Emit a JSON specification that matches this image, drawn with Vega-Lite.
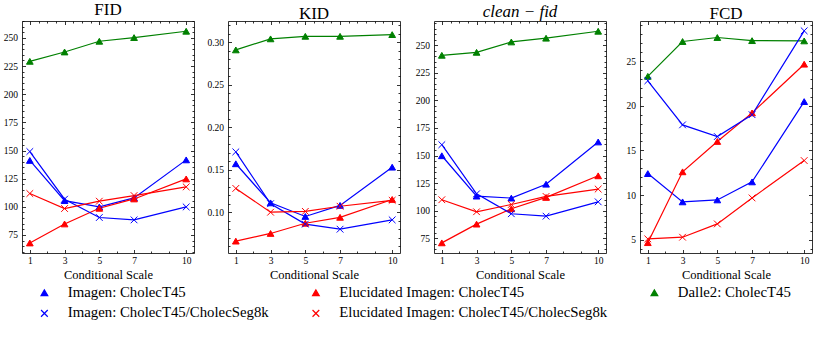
{
  "$schema": "https://vega.github.io/schema/vega-lite/v6.json",
  "padding": {"left": 3, "top": 0, "right": 2, "bottom": 2},
  "datasets": {
    "d": [
      {"metric": "FID", "model": "Imagen: CholecT45", "scale": 1, "value": 141.2},
      {"metric": "FID", "model": "Imagen: CholecT45", "scale": 3, "value": 105.5},
      {"metric": "FID", "model": "Imagen: CholecT45", "scale": 5, "value": 99.9},
      {"metric": "FID", "model": "Imagen: CholecT45", "scale": 7, "value": 107.9},
      {"metric": "FID", "model": "Imagen: CholecT45", "scale": 10, "value": 141.7},
      {"metric": "FID", "model": "Elucidated Imagen: CholecT45", "scale": 1, "value": 67.9},
      {"metric": "FID", "model": "Elucidated Imagen: CholecT45", "scale": 3, "value": 84.8},
      {"metric": "FID", "model": "Elucidated Imagen: CholecT45", "scale": 5, "value": 98.7},
      {"metric": "FID", "model": "Elucidated Imagen: CholecT45", "scale": 7, "value": 107.0},
      {"metric": "FID", "model": "Elucidated Imagen: CholecT45", "scale": 10, "value": 124.8},
      {"metric": "FID", "model": "Dalle2: CholecT45", "scale": 1, "value": 229.2},
      {"metric": "FID", "model": "Dalle2: CholecT45", "scale": 3, "value": 237.5},
      {"metric": "FID", "model": "Dalle2: CholecT45", "scale": 5, "value": 247.0},
      {"metric": "FID", "model": "Dalle2: CholecT45", "scale": 7, "value": 250.3},
      {"metric": "FID", "model": "Dalle2: CholecT45", "scale": 10, "value": 255.9},
      {"metric": "FID", "model": "Imagen: CholecT45/CholecSeg8k", "scale": 1, "value": 149.1},
      {"metric": "FID", "model": "Imagen: CholecT45/CholecSeg8k", "scale": 3, "value": 106.8},
      {"metric": "FID", "model": "Imagen: CholecT45/CholecSeg8k", "scale": 5, "value": 90.5},
      {"metric": "FID", "model": "Imagen: CholecT45/CholecSeg8k", "scale": 7, "value": 88.4},
      {"metric": "FID", "model": "Imagen: CholecT45/CholecSeg8k", "scale": 10, "value": 99.9},
      {"metric": "FID", "model": "Elucidated Imagen: CholecT45/CholecSeg8k", "scale": 1, "value": 111.8},
      {"metric": "FID", "model": "Elucidated Imagen: CholecT45/CholecSeg8k", "scale": 3, "value": 98.5},
      {"metric": "FID", "model": "Elucidated Imagen: CholecT45/CholecSeg8k", "scale": 5, "value": 105.0},
      {"metric": "FID", "model": "Elucidated Imagen: CholecT45/CholecSeg8k", "scale": 7, "value": 110.0},
      {"metric": "FID", "model": "Elucidated Imagen: CholecT45/CholecSeg8k", "scale": 10, "value": 117.7},

      {"metric": "KID", "model": "Imagen: CholecT45", "scale": 1, "value": 0.157},
      {"metric": "KID", "model": "Imagen: CholecT45", "scale": 3, "value": 0.111},
      {"metric": "KID", "model": "Imagen: CholecT45", "scale": 5, "value": 0.095},
      {"metric": "KID", "model": "Imagen: CholecT45", "scale": 7, "value": 0.108},
      {"metric": "KID", "model": "Imagen: CholecT45", "scale": 10, "value": 0.153},
      {"metric": "KID", "model": "Elucidated Imagen: CholecT45", "scale": 1, "value": 0.066},
      {"metric": "KID", "model": "Elucidated Imagen: CholecT45", "scale": 3, "value": 0.075},
      {"metric": "KID", "model": "Elucidated Imagen: CholecT45", "scale": 5, "value": 0.087},
      {"metric": "KID", "model": "Elucidated Imagen: CholecT45", "scale": 7, "value": 0.094},
      {"metric": "KID", "model": "Elucidated Imagen: CholecT45", "scale": 10, "value": 0.115},
      {"metric": "KID", "model": "Dalle2: CholecT45", "scale": 1, "value": 0.291},
      {"metric": "KID", "model": "Dalle2: CholecT45", "scale": 3, "value": 0.304},
      {"metric": "KID", "model": "Dalle2: CholecT45", "scale": 5, "value": 0.307},
      {"metric": "KID", "model": "Dalle2: CholecT45", "scale": 7, "value": 0.307},
      {"metric": "KID", "model": "Dalle2: CholecT45", "scale": 10, "value": 0.309},
      {"metric": "KID", "model": "Imagen: CholecT45/CholecSeg8k", "scale": 1, "value": 0.171},
      {"metric": "KID", "model": "Imagen: CholecT45/CholecSeg8k", "scale": 3, "value": 0.110},
      {"metric": "KID", "model": "Imagen: CholecT45/CholecSeg8k", "scale": 5, "value": 0.086},
      {"metric": "KID", "model": "Imagen: CholecT45/CholecSeg8k", "scale": 7, "value": 0.080},
      {"metric": "KID", "model": "Imagen: CholecT45/CholecSeg8k", "scale": 10, "value": 0.091},
      {"metric": "KID", "model": "Elucidated Imagen: CholecT45/CholecSeg8k", "scale": 1, "value": 0.128},
      {"metric": "KID", "model": "Elucidated Imagen: CholecT45/CholecSeg8k", "scale": 3, "value": 0.100},
      {"metric": "KID", "model": "Elucidated Imagen: CholecT45/CholecSeg8k", "scale": 5, "value": 0.101},
      {"metric": "KID", "model": "Elucidated Imagen: CholecT45/CholecSeg8k", "scale": 7, "value": 0.107},
      {"metric": "KID", "model": "Elucidated Imagen: CholecT45/CholecSeg8k", "scale": 10, "value": 0.114},

      {"metric": "CF", "model": "Imagen: CholecT45", "scale": 1, "value": 149.8},
      {"metric": "CF", "model": "Imagen: CholecT45", "scale": 3, "value": 113.2},
      {"metric": "CF", "model": "Imagen: CholecT45", "scale": 5, "value": 111.4},
      {"metric": "CF", "model": "Imagen: CholecT45", "scale": 7, "value": 124.0},
      {"metric": "CF", "model": "Imagen: CholecT45", "scale": 10, "value": 162.3},
      {"metric": "CF", "model": "Elucidated Imagen: CholecT45", "scale": 1, "value": 70.8},
      {"metric": "CF", "model": "Elucidated Imagen: CholecT45", "scale": 3, "value": 87.8},
      {"metric": "CF", "model": "Elucidated Imagen: CholecT45", "scale": 5, "value": 101.7},
      {"metric": "CF", "model": "Elucidated Imagen: CholecT45", "scale": 7, "value": 112.0},
      {"metric": "CF", "model": "Elucidated Imagen: CholecT45", "scale": 10, "value": 131.6},
      {"metric": "CF", "model": "Dalle2: CholecT45", "scale": 1, "value": 240.9},
      {"metric": "CF", "model": "Dalle2: CholecT45", "scale": 3, "value": 243.6},
      {"metric": "CF", "model": "Dalle2: CholecT45", "scale": 5, "value": 253.0},
      {"metric": "CF", "model": "Dalle2: CholecT45", "scale": 7, "value": 256.4},
      {"metric": "CF", "model": "Dalle2: CholecT45", "scale": 10, "value": 262.7},
      {"metric": "CF", "model": "Imagen: CholecT45/CholecSeg8k", "scale": 1, "value": 159.8},
      {"metric": "CF", "model": "Imagen: CholecT45/CholecSeg8k", "scale": 3, "value": 115.3},
      {"metric": "CF", "model": "Imagen: CholecT45/CholecSeg8k", "scale": 5, "value": 97.2},
      {"metric": "CF", "model": "Imagen: CholecT45/CholecSeg8k", "scale": 7, "value": 95.0},
      {"metric": "CF", "model": "Imagen: CholecT45/CholecSeg8k", "scale": 10, "value": 108.0},
      {"metric": "CF", "model": "Elucidated Imagen: CholecT45/CholecSeg8k", "scale": 1, "value": 109.9},
      {"metric": "CF", "model": "Elucidated Imagen: CholecT45/CholecSeg8k", "scale": 3, "value": 99.0},
      {"metric": "CF", "model": "Elucidated Imagen: CholecT45/CholecSeg8k", "scale": 5, "value": 105.6},
      {"metric": "CF", "model": "Elucidated Imagen: CholecT45/CholecSeg8k", "scale": 7, "value": 112.9},
      {"metric": "CF", "model": "Elucidated Imagen: CholecT45/CholecSeg8k", "scale": 10, "value": 119.6},

      {"metric": "FCD", "model": "Imagen: CholecT45", "scale": 1, "value": 12.4},
      {"metric": "FCD", "model": "Imagen: CholecT45", "scale": 3, "value": 9.23},
      {"metric": "FCD", "model": "Imagen: CholecT45", "scale": 5, "value": 9.45},
      {"metric": "FCD", "model": "Imagen: CholecT45", "scale": 7, "value": 11.47},
      {"metric": "FCD", "model": "Imagen: CholecT45", "scale": 10, "value": 20.47},
      {"metric": "FCD", "model": "Elucidated Imagen: CholecT45", "scale": 1, "value": 4.66},
      {"metric": "FCD", "model": "Elucidated Imagen: CholecT45", "scale": 3, "value": 12.6},
      {"metric": "FCD", "model": "Elucidated Imagen: CholecT45", "scale": 5, "value": 16.0},
      {"metric": "FCD", "model": "Elucidated Imagen: CholecT45", "scale": 7, "value": 19.2},
      {"metric": "FCD", "model": "Elucidated Imagen: CholecT45", "scale": 10, "value": 24.66},
      {"metric": "FCD", "model": "Dalle2: CholecT45", "scale": 1, "value": 23.3},
      {"metric": "FCD", "model": "Dalle2: CholecT45", "scale": 3, "value": 27.2},
      {"metric": "FCD", "model": "Dalle2: CholecT45", "scale": 5, "value": 27.65},
      {"metric": "FCD", "model": "Dalle2: CholecT45", "scale": 7, "value": 27.3},
      {"metric": "FCD", "model": "Dalle2: CholecT45", "scale": 10, "value": 27.27},
      {"metric": "FCD", "model": "Imagen: CholecT45/CholecSeg8k", "scale": 1, "value": 22.8},
      {"metric": "FCD", "model": "Imagen: CholecT45/CholecSeg8k", "scale": 3, "value": 17.86},
      {"metric": "FCD", "model": "Imagen: CholecT45/CholecSeg8k", "scale": 5, "value": 16.55},
      {"metric": "FCD", "model": "Imagen: CholecT45/CholecSeg8k", "scale": 7, "value": 19.0},
      {"metric": "FCD", "model": "Imagen: CholecT45/CholecSeg8k", "scale": 10, "value": 28.4},
      {"metric": "FCD", "model": "Elucidated Imagen: CholecT45/CholecSeg8k", "scale": 1, "value": 5.08},
      {"metric": "FCD", "model": "Elucidated Imagen: CholecT45/CholecSeg8k", "scale": 3, "value": 5.27},
      {"metric": "FCD", "model": "Elucidated Imagen: CholecT45/CholecSeg8k", "scale": 5, "value": 6.76},
      {"metric": "FCD", "model": "Elucidated Imagen: CholecT45/CholecSeg8k", "scale": 7, "value": 9.67},
      {"metric": "FCD", "model": "Elucidated Imagen: CholecT45/CholecSeg8k", "scale": 10, "value": 13.86}
    ]
  },
  "data": {"name": "d"},
  "spacing": 34,
  "bounds": "flush",
  "hconcat": [
    {
      "width": 172, "height": 232,
      "title": {"text": "FID"},
      "transform": [{"filter": "datum.metric === 'FID'"}],
      "resolve": {"axis": {"x": "independent", "y": "independent"}},
      "layer": [
        {
          "mark": {"type": "line", "strokeWidth": 1.2},
          "encoding": {
            "x": {"field": "scale", "type": "quantitative", "scale": {"domain": [0.55, 10.45], "nice": false, "zero": false},
                  "axis": {"orient": "bottom", "title": "Conditional Scale", "values": [1,1.5,2,2.5,3,3.5,4,4.5,5,5.5,6,6.5,7,7.5,8,8.5,9,9.5,10], "format": "d", "labelExpr": "indexof([1,3,5,7,10], datum.value) >= 0 ? datum.label : ''", "tickSize": {"condition": {"test": "indexof([1,3,5,7,10], datum.value) >= 0", "value": -3.5}, "value": -2}}},
            "y": {"field": "value", "type": "quantitative", "scale": {"domain": [59, 265], "nice": false, "zero": false},
                  "axis": {"orient": "left", "title": null, "values": [60,65,70,75,80,85,90,95,100,105,110,115,120,125,130,135,140,145,150,155,160,165,170,175,180,185,190,195,200,205,210,215,220,225,230,235,240,245,250,255,260,265], "format": "d", "labelExpr": "datum.value % 25 === 0 ? datum.label : ''", "tickSize": {"condition": {"test": "datum.value % 25 === 0", "value": -3.5}, "value": -2}}},
            "color": {"field": "model", "type": "nominal",
                      "scale": {"domain": ["Imagen: CholecT45", "Elucidated Imagen: CholecT45", "Dalle2: CholecT45", "Imagen: CholecT45/CholecSeg8k", "Elucidated Imagen: CholecT45/CholecSeg8k"], "range": ["#0000ff", "#ff0000", "#008000", "#0000ff", "#ff0000"]},
                      "legend": {
                        "orient": "bottom", "columns": 3, "title": null, "labelFont": "Liberation Serif", "labelFontSize": 14.8, "labelColor": "#000", "labelLimit": 0,
                        "symbolSize": 45, "symbolOffset": 15, "labelOffset": 16, "columnPadding": 24.5, "rowPadding": 5, "offset": 4, "padding": 0,
                        "symbolStrokeWidth": 1.2
                      }}
          }
        },
        {
          "mark": {"type": "point", "filled": true, "size": 45, "strokeWidth": 1, "opacity": 1},
          "encoding": {
            "x": {"field": "scale", "type": "quantitative",
                  "axis": {"orient": "top", "title": null, "labels": false, "values": [1,1.5,2,2.5,3,3.5,4,4.5,5,5.5,6,6.5,7,7.5,8,8.5,9,9.5,10], "tickSize": {"condition": {"test": "indexof([1,3,5,7,10], datum.value) >= 0", "value": -3.5}, "value": -2}}},
            "y": {"field": "value", "type": "quantitative",
                  "axis": {"orient": "right", "title": null, "labels": false, "values": [60,65,70,75,80,85,90,95,100,105,110,115,120,125,130,135,140,145,150,155,160,165,170,175,180,185,190,195,200,205,210,215,220,225,230,235,240,245,250,255,260,265], "tickSize": {"condition": {"test": "datum.value % 25 === 0", "value": -3.5}, "value": -2}}},
            "color": {"field": "model", "type": "nominal"},
            "stroke": {"field": "model", "type": "nominal", "legend": null,
                       "scale": {"domain": ["Imagen: CholecT45", "Elucidated Imagen: CholecT45", "Dalle2: CholecT45", "Imagen: CholecT45/CholecSeg8k", "Elucidated Imagen: CholecT45/CholecSeg8k"], "range": ["#0000ff", "#ff0000", "#008000", "#0000ff", "#ff0000"]}},
            "shape": {"field": "model", "type": "nominal", "legend": null,
                      "scale": {"domain": ["Imagen: CholecT45", "Elucidated Imagen: CholecT45", "Dalle2: CholecT45", "Imagen: CholecT45/CholecSeg8k", "Elucidated Imagen: CholecT45/CholecSeg8k"], "range": ["triangle-up", "triangle-up", "triangle-up", "M-1,-1L1,1M-1,1L1,-1", "M-1,-1L1,1M-1,1L1,-1"]}}
          }
        }
      ]
    },
    {
      "width": 172, "height": 232,
      "title": {"text": "KID"},
      "transform": [{"filter": "datum.metric === 'KID'"}],
      "resolve": {"axis": {"x": "independent", "y": "independent"}},
      "layer": [
        {
          "mark": {"type": "line", "strokeWidth": 1.2},
          "encoding": {
            "x": {"field": "scale", "type": "quantitative", "scale": {"domain": [0.55, 10.45], "nice": false, "zero": false},
                  "axis": {"orient": "bottom", "title": "Conditional Scale", "values": [1,1.5,2,2.5,3,3.5,4,4.5,5,5.5,6,6.5,7,7.5,8,8.5,9,9.5,10], "format": "d", "labelExpr": "indexof([1,3,5,7,10], datum.value) >= 0 ? datum.label : ''", "tickSize": {"condition": {"test": "indexof([1,3,5,7,10], datum.value) >= 0", "value": -3.5}, "value": -2}}},
            "y": {"field": "value", "type": "quantitative", "scale": {"domain": [0.052, 0.325], "nice": false, "zero": false},
                  "axis": {"orient": "left", "title": null, "values": [0.06,0.07,0.08,0.09,0.10,0.11,0.12,0.13,0.14,0.15,0.16,0.17,0.18,0.19,0.20,0.21,0.22,0.23,0.24,0.25,0.26,0.27,0.28,0.29,0.30,0.31,0.32], "format": ".2f", "labelExpr": "round(datum.value * 100) % 5 === 0 ? datum.label : ''", "tickSize": {"condition": {"test": "round(datum.value * 100) % 5 === 0", "value": -3.5}, "value": -2}}},
            "color": {"field": "model", "type": "nominal"}
          }
        },
        {
          "mark": {"type": "point", "filled": true, "size": 45, "strokeWidth": 1, "opacity": 1},
          "encoding": {
            "x": {"field": "scale", "type": "quantitative",
                  "axis": {"orient": "top", "title": null, "labels": false, "values": [1,1.5,2,2.5,3,3.5,4,4.5,5,5.5,6,6.5,7,7.5,8,8.5,9,9.5,10], "tickSize": {"condition": {"test": "indexof([1,3,5,7,10], datum.value) >= 0", "value": -3.5}, "value": -2}}},
            "y": {"field": "value", "type": "quantitative",
                  "axis": {"orient": "right", "title": null, "labels": false, "values": [0.06,0.07,0.08,0.09,0.10,0.11,0.12,0.13,0.14,0.15,0.16,0.17,0.18,0.19,0.20,0.21,0.22,0.23,0.24,0.25,0.26,0.27,0.28,0.29,0.30,0.31,0.32], "tickSize": {"condition": {"test": "round(datum.value * 100) % 5 === 0", "value": -3.5}, "value": -2}}},
            "color": {"field": "model", "type": "nominal"},
            "stroke": {"field": "model", "type": "nominal", "legend": null},
            "shape": {"field": "model", "type": "nominal", "legend": null}
          }
        }
      ]
    },
    {
      "width": 172, "height": 232,
      "title": {"text": "clean − fid", "fontStyle": "italic"},
      "transform": [{"filter": "datum.metric === 'CF'"}],
      "resolve": {"axis": {"x": "independent", "y": "independent"}},
      "layer": [
        {
          "mark": {"type": "line", "strokeWidth": 1.2},
          "encoding": {
            "x": {"field": "scale", "type": "quantitative", "scale": {"domain": [0.55, 10.45], "nice": false, "zero": false},
                  "axis": {"orient": "bottom", "title": "Conditional Scale", "values": [1,1.5,2,2.5,3,3.5,4,4.5,5,5.5,6,6.5,7,7.5,8,8.5,9,9.5,10], "format": "d", "labelExpr": "indexof([1,3,5,7,10], datum.value) >= 0 ? datum.label : ''", "tickSize": {"condition": {"test": "indexof([1,3,5,7,10], datum.value) >= 0", "value": -3.5}, "value": -2}}},
            "y": {"field": "value", "type": "quantitative", "scale": {"domain": [61.6, 272], "nice": false, "zero": false},
                  "axis": {"orient": "left", "title": null, "values": [65,70,75,80,85,90,95,100,105,110,115,120,125,130,135,140,145,150,155,160,165,170,175,180,185,190,195,200,205,210,215,220,225,230,235,240,245,250,255,260,265,270], "format": "d", "labelExpr": "datum.value % 25 === 0 ? datum.label : ''", "tickSize": {"condition": {"test": "datum.value % 25 === 0", "value": -3.5}, "value": -2}}},
            "color": {"field": "model", "type": "nominal"}
          }
        },
        {
          "mark": {"type": "point", "filled": true, "size": 45, "strokeWidth": 1, "opacity": 1},
          "encoding": {
            "x": {"field": "scale", "type": "quantitative",
                  "axis": {"orient": "top", "title": null, "labels": false, "values": [1,1.5,2,2.5,3,3.5,4,4.5,5,5.5,6,6.5,7,7.5,8,8.5,9,9.5,10], "tickSize": {"condition": {"test": "indexof([1,3,5,7,10], datum.value) >= 0", "value": -3.5}, "value": -2}}},
            "y": {"field": "value", "type": "quantitative",
                  "axis": {"orient": "right", "title": null, "labels": false, "values": [65,70,75,80,85,90,95,100,105,110,115,120,125,130,135,140,145,150,155,160,165,170,175,180,185,190,195,200,205,210,215,220,225,230,235,240,245,250,255,260,265,270], "tickSize": {"condition": {"test": "datum.value % 25 === 0", "value": -3.5}, "value": -2}}},
            "color": {"field": "model", "type": "nominal"},
            "stroke": {"field": "model", "type": "nominal", "legend": null},
            "shape": {"field": "model", "type": "nominal", "legend": null}
          }
        }
      ]
    },
    {
      "width": 172, "height": 232,
      "title": {"text": "FCD"},
      "transform": [{"filter": "datum.metric === 'FCD'"}],
      "resolve": {"axis": {"x": "independent", "y": "independent"}},
      "layer": [
        {
          "mark": {"type": "line", "strokeWidth": 1.2},
          "encoding": {
            "x": {"field": "scale", "type": "quantitative", "scale": {"domain": [0.55, 10.45], "nice": false, "zero": false},
                  "axis": {"orient": "bottom", "title": "Conditional Scale", "values": [1,1.5,2,2.5,3,3.5,4,4.5,5,5.5,6,6.5,7,7.5,8,8.5,9,9.5,10], "format": "d", "labelExpr": "indexof([1,3,5,7,10], datum.value) >= 0 ? datum.label : ''", "tickSize": {"condition": {"test": "indexof([1,3,5,7,10], datum.value) >= 0", "value": -3.5}, "value": -2}}},
            "y": {"field": "value", "type": "quantitative", "scale": {"domain": [3.5, 29.5], "nice": false, "zero": false},
                  "axis": {"orient": "left", "title": null, "values": [4,5,6,7,8,9,10,11,12,13,14,15,16,17,18,19,20,21,22,23,24,25,26,27,28,29], "format": "d", "labelExpr": "datum.value % 5 === 0 ? datum.label : ''", "tickSize": {"condition": {"test": "datum.value % 5 === 0", "value": -3.5}, "value": -2}}},
            "color": {"field": "model", "type": "nominal"}
          }
        },
        {
          "mark": {"type": "point", "filled": true, "size": 45, "strokeWidth": 1, "opacity": 1},
          "encoding": {
            "x": {"field": "scale", "type": "quantitative",
                  "axis": {"orient": "top", "title": null, "labels": false, "values": [1,1.5,2,2.5,3,3.5,4,4.5,5,5.5,6,6.5,7,7.5,8,8.5,9,9.5,10], "tickSize": {"condition": {"test": "indexof([1,3,5,7,10], datum.value) >= 0", "value": -3.5}, "value": -2}}},
            "y": {"field": "value", "type": "quantitative",
                  "axis": {"orient": "right", "title": null, "labels": false, "values": [4,5,6,7,8,9,10,11,12,13,14,15,16,17,18,19,20,21,22,23,24,25,26,27,28,29], "tickSize": {"condition": {"test": "datum.value % 5 === 0", "value": -3.5}, "value": -2}}},
            "color": {"field": "model", "type": "nominal"},
            "stroke": {"field": "model", "type": "nominal", "legend": null},
            "shape": {"field": "model", "type": "nominal", "legend": null}
          }
        }
      ]
    }
  ],
  "resolve": {"scale": {"color": "shared", "shape": "shared", "stroke": "shared"}},
  "config": {
    "font": "Liberation Serif",
    "view": {"stroke": null},
    "title": {"font": "Liberation Serif", "fontSize": 17, "fontWeight": "normal", "color": "#000", "offset": -2.5},
    "axis": {"grid": false, "domainColor": "#000", "domainWidth": 0.8, "tickColor": "#000", "tickWidth": 0.8,
             "labelFont": "Liberation Serif", "labelFontSize": 9.5, "labelColor": "#000", "labelPadding": 8,
             "titleFont": "Liberation Serif", "titleFontSize": 12.5, "titleFontWeight": "normal", "titleColor": "#000", "titlePadding": 3,
             "labelFlush": false, "labelOverlap": false},
    "axisX": {"labelPadding": 6, "titlePadding": 2}
  }
}
